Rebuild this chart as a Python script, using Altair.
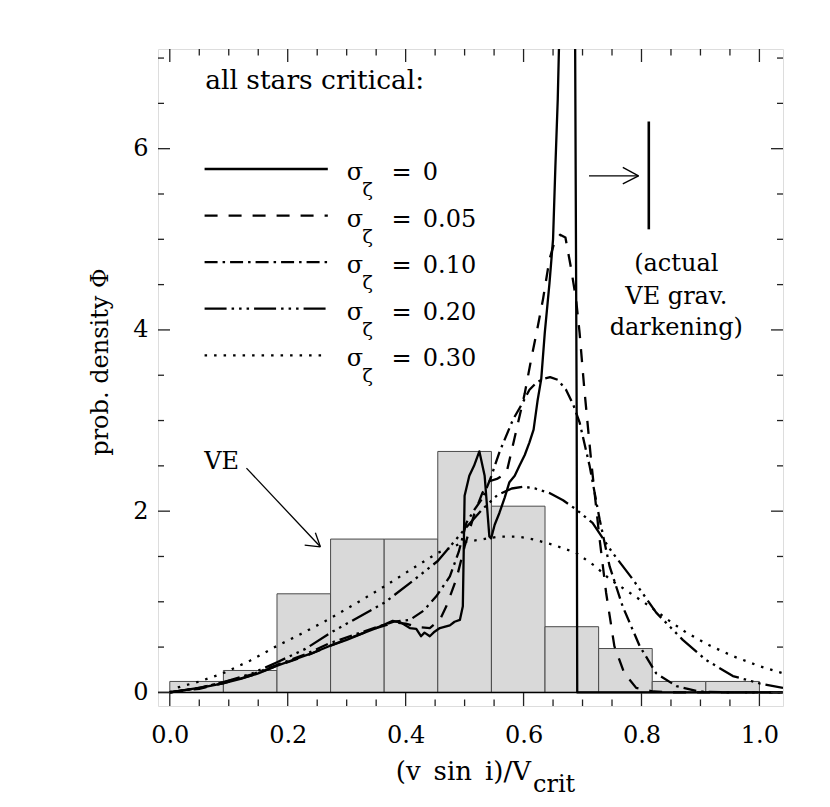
import altair as alt
import pandas as pd

FONT = "DejaVu Serif"
W, H = 625, 657
X_DOMAIN = [-0.02, 1.04]
Y_DOMAIN = [-0.15, 7.1]

# ---------------- data ----------------
bin_lo = [0.0, 0.0909, 0.1818, 0.2727, 0.3636, 0.4545, 0.5455, 0.6364, 0.7273, 0.8182, 0.9091]
bin_hi = [0.0909, 0.1818, 0.2727, 0.3636, 0.4545, 0.5455, 0.6364, 0.7273, 0.8182, 0.9091, 1.0]
bin_density = [0.121, 0.242, 1.088, 1.692, 1.692, 2.659, 2.055, 0.725, 0.484, 0.121, 0.121]

s0_x = [0.0, 0.03, 0.06, 0.09, 0.12, 0.15, 0.18, 0.21, 0.24, 0.27, 0.30, 0.33, 0.35, 0.364, 0.378,
        0.392, 0.407, 0.418, 0.426, 0.432, 0.441, 0.449, 0.458, 0.475, 0.483, 0.492, 0.497, 0.500,
        0.508, 0.516, 0.525, 0.534, 0.542, 0.545, 0.551, 0.559, 0.568, 0.576, 0.585, 0.593, 0.602,
        0.610, 0.617, 0.624, 0.630, 0.636, 0.644, 0.650, 0.654, 0.658, 0.660, 0.662, 0.686, 0.6875,
        0.690, 0.691, 0.75, 1.04]
s0_y = [0.0, 0.03, 0.06, 0.10, 0.15, 0.21, 0.29, 0.36, 0.43, 0.51, 0.58, 0.66, 0.71, 0.75, 0.79,
        0.77, 0.71, 0.70, 0.62, 0.66, 0.62, 0.67, 0.71, 0.74, 0.78, 0.80, 0.95, 2.17,
        2.39, 2.50, 2.66, 2.39, 1.72, 1.70, 1.85, 1.98, 2.15, 2.32, 2.39, 2.50, 2.62,
        2.76, 2.90, 3.23, 3.46, 3.97, 4.52, 5.00, 5.81, 6.55, 7.10, 8.5, 8.5, 7.10,
        3.2, 0.0, 0.0, 0.0]

s05_x = [0.0, 0.05, 0.09, 0.14, 0.18, 0.23, 0.27, 0.31, 0.35, 0.38, 0.40, 0.42, 0.441, 0.458, 0.469,
         0.486, 0.50, 0.517, 0.530, 0.542, 0.556, 0.571, 0.588, 0.602, 0.613, 0.623, 0.633, 0.644,
         0.653, 0.662, 0.671, 0.680, 0.689, 0.695, 0.703, 0.715, 0.729, 0.740, 0.754, 0.771, 0.791,
         0.82, 0.86, 1.04]
s05_y = [0.0, 0.04, 0.10, 0.19, 0.29, 0.40, 0.51, 0.61, 0.71, 0.77, 0.76, 0.72, 0.71, 0.80, 0.95,
         1.25, 1.61, 1.98, 2.20, 2.33, 2.36, 2.42, 2.90, 3.30, 3.68, 4.00, 4.34, 4.78,
         4.98, 5.05, 5.02, 4.70, 4.34, 3.97, 3.35, 2.53, 1.69, 1.10, 0.51, 0.21, 0.05,
         0.01, 0.0, 0.0]

s10_x = [0.0, 0.05, 0.09, 0.14, 0.18, 0.23, 0.27, 0.31, 0.35, 0.38, 0.407, 0.43, 0.452, 0.475, 0.49,
         0.503, 0.517, 0.531, 0.545, 0.559, 0.582, 0.597, 0.610, 0.622, 0.633, 0.645, 0.658, 0.672,
         0.684, 0.695, 0.712, 0.729, 0.746, 0.768, 0.797, 0.825, 0.859, 0.898, 0.95, 1.04]
s10_y = [0.0, 0.05, 0.11, 0.20, 0.30, 0.42, 0.54, 0.63, 0.72, 0.78, 0.80, 0.90, 1.06, 1.28, 1.55,
         1.87, 2.02, 2.15, 2.38, 2.65, 3.01, 3.18, 3.34, 3.42, 3.46, 3.48, 3.45, 3.34,
         3.18, 2.98, 2.50, 1.91, 1.39, 0.95, 0.51, 0.21, 0.07, 0.01, 0.0, 0.0]

s20_x = [0.0, 0.05, 0.09, 0.14, 0.181, 0.23, 0.273, 0.32, 0.364, 0.41, 0.4545, 0.50, 0.53, 0.556,
         0.58, 0.60, 0.62, 0.644, 0.667, 0.689, 0.717, 0.751, 0.785, 0.825, 0.870, 0.909, 0.955,
         1.0, 1.04]
s20_y = [0.0, 0.05, 0.11, 0.21, 0.33, 0.48, 0.66, 0.83, 0.99, 1.22, 1.45, 1.80, 2.02, 2.18,
         2.25, 2.27, 2.25, 2.20, 2.12, 2.02, 1.87, 1.54, 1.25, 0.88, 0.58, 0.36, 0.18,
         0.10, 0.05]

s30_x = [0.0, 0.011, 0.05, 0.09, 0.136, 0.181, 0.227, 0.273, 0.318, 0.364, 0.41, 0.4545, 0.50,
         0.531, 0.559, 0.59, 0.616, 0.65, 0.689, 0.72, 0.746, 0.78, 0.814, 0.845, 0.876, 0.915,
         0.955, 1.0, 1.04]
s30_y = [0.0, 0.05, 0.12, 0.21, 0.35, 0.51, 0.66, 0.82, 0.99, 1.17, 1.36, 1.54, 1.66,
         1.69, 1.72, 1.72, 1.69, 1.63, 1.54, 1.40, 1.25, 1.10, 0.95, 0.80, 0.66, 0.52,
         0.40, 0.29, 0.21]

sigma_labels = ["0", "0.05", "0.10", "0.20", "0.30"]
legend_rows_y = [5.776, 5.262, 4.748, 4.234, 3.720]
legend_x0, legend_x1 = 0.059, 0.268

x_major = [0.0, 0.2, 0.4, 0.6, 0.8, 1.0]
x_minor = [0.05, 0.1, 0.15, 0.25, 0.3, 0.35, 0.45, 0.5, 0.55, 0.65, 0.7, 0.75, 0.85, 0.9, 0.95]
y_major = [0, 2, 4, 6]
y_minor = [0.5, 1, 1.5, 2.5, 3, 3.5, 4.5, 5, 5.5, 6.5, 7]

# ---------------- chart ----------------
xs = alt.Scale(domain=X_DOMAIN, nice=False, zero=False)
ys = alt.Scale(domain=Y_DOMAIN, nice=False, zero=False)
AX = alt.Axis(values=x_major, format=".1f", ticks=False, domain=False, grid=False, labelFont=FONT,
              labelFontSize=24, labelColor="black", labelPadding=17, title=None, labelFlush=False)
AY = alt.Axis(values=y_major, format="d", ticks=False, domain=False, grid=False, labelFont=FONT,
              labelFontSize=24, labelColor="black", labelPadding=10, title=None, labelFlush=False)

def X(field):
    return alt.X(field, scale=xs, axis=AX)
def Y(field):
    return alt.Y(field, scale=ys, axis=AY)

hist_df = pd.DataFrame({"x0": bin_lo, "x1": bin_hi, "d": bin_density, "z": [0.0] * len(bin_lo)})
hist = alt.Chart(hist_df).mark_rect(fill="#d9d9d9", stroke="#4a4a4a", strokeWidth=1).encode(
    x=X("x0:Q"), x2="x1:Q", y=Y("d:Q"), y2="z:Q")

zero_df = pd.DataFrame({"y": [0.0]})
zero_line = alt.Chart(zero_df).mark_rule(color="black", strokeWidth=1.5).encode(
    y=Y("y:Q"), x=alt.value(0), x2=alt.value(W))

styles = [
    (s0_x, s0_y, None),
    (s05_x, s05_y, [13, 11]),
    (s10_x, s10_y, [13, 5, 2.5, 5]),
    (s20_x, s20_y, [22, 5, 2.5, 5, 2.5, 5, 2.5, 5]),
    (s30_x, s30_y, [2.5, 7]),
]

layers = [hist, zero_line]
for (cx, cy, dash), row_y in zip(styles, legend_rows_y):
    df = pd.DataFrame({"x": cx, "y": cy, "o": list(range(len(cx)))})
    kw = dict(clip=True, color="black", strokeWidth=2.3, strokeCap="butt", strokeJoin="round")
    if dash is not None:
        kw["strokeDash"] = dash
    layers.append(alt.Chart(df).mark_line(**kw).encode(x=X("x:Q"), y=Y("y:Q"), order="o:Q"))
    ldf = pd.DataFrame({"x": [legend_x0], "x2": [legend_x1], "y": [row_y]})
    kw2 = dict(color="black", strokeWidth=2.3, strokeCap="butt")
    if dash is not None:
        kw2["strokeDash"] = dash
    layers.append(alt.Chart(ldf).mark_rule(**kw2).encode(x=X("x:Q"), x2="x2:Q", y=Y("y:Q")))

leg_df = pd.DataFrame({"y": legend_rows_y, "val": sigma_labels,
                       "sig": ["σ"] * 5, "zeta": ["ζ"] * 5, "eq": ["="] * 5})
def legend_text(field, xpos, size, dy):
    return alt.Chart(leg_df).mark_text(font=FONT, fontSize=size, align="left", baseline="alphabetic",
                                       dy=dy, color="black").encode(
        x=X("xx:Q"), y=Y("y:Q"), text=f"{field}:N").transform_calculate(xx=str(xpos))
layers += [legend_text("sig", 0.300, 24, 11), legend_text("zeta", 0.327, 19, 27),
           legend_text("eq", 0.376, 24, 11), legend_text("val", 0.429, 24, 11)]

# free annotations (data coordinates)
ann_df = pd.DataFrame({
    "x": [0.06, 0.088, 0.859, 0.859, 0.859],
    "y": [6.66, 2.46, 4.65, 4.29, 3.94],
    "t": ["all stars critical:", "VE", "(actual", "VE grav.", "darkening)"],
    "a": ["left", "center", "center", "center", "center"],
})
for al, size in [("left", 26.5), ("center", 24)]:
    layers.append(alt.Chart(ann_df[ann_df.a == al]).mark_text(
        font=FONT, fontSize=size, align=al, baseline="alphabetic", color="black").encode(
        x=X("x:Q"), y=Y("y:Q"), text="t:N"))

seg_df = pd.DataFrame({
    "x": [0.130, 0.2554, 0.2554, 0.711, 0.795, 0.795],
    "y": [2.475, 1.607, 1.607, 5.70, 5.70, 5.70],
    "x2": [0.2554, 0.2288, 0.2469, 0.795, 0.7683, 0.7683],
    "y2": [1.607, 1.625, 1.762, 5.70, 5.794, 5.611],
})
layers.append(alt.Chart(seg_df).mark_rule(color="black", strokeWidth=1.3).encode(
    x=X("x:Q"), x2="x2:Q", y=Y("y:Q"), y2="y2:Q"))
mark_df = pd.DataFrame({"x": [0.8124], "y": [6.30], "y2": [5.11]})
layers.append(alt.Chart(mark_df).mark_rule(color="black", strokeWidth=2.6).encode(
    x=X("x:Q"), y=Y("y:Q"), y2="y2:Q"))

# tick marks on all four sides (inward)
def xticks(vals, length):
    df = pd.DataFrame({"v": vals})
    base = alt.Chart(df).mark_rule(color="#222", strokeWidth=1.3)
    return [base.encode(x=X("v:Q"), y=alt.value(H), y2=alt.value(H - length)),
            base.encode(x=X("v:Q"), y=alt.value(0), y2=alt.value(length))]
def yticks(vals, length):
    df = pd.DataFrame({"v": vals})
    base = alt.Chart(df).mark_rule(color="#222", strokeWidth=1.3)
    return [base.encode(y=Y("v:Q"), x=alt.value(0), x2=alt.value(length)),
            base.encode(y=Y("v:Q"), x=alt.value(W), x2=alt.value(W - length))]
layers += xticks(x_major, 13) + xticks(x_minor, 6.5) + yticks(y_major, 12) + yticks(y_minor, 6)

# axis titles
title_df = pd.DataFrame({"t": ["(v\u2002sin\u2002i)/V"], "c": ["crit"], "p": ["prob. density Φ"]})
layers.append(alt.Chart(title_df).mark_text(font=FONT, fontSize=26, align="right", baseline="alphabetic",
                                            color="black").encode(
    x=alt.value(373), y=alt.value(731), text="t:N"))
layers.append(alt.Chart(title_df).mark_text(font=FONT, fontSize=24, align="left", baseline="alphabetic",
                                            color="black").encode(
    x=alt.value(375), y=alt.value(743), text="c:N"))
layers.append(alt.Chart(title_df).mark_text(font=FONT, fontSize=24, align="center", baseline="middle",
                                            angle=270, color="black").encode(
    x=alt.value(-57), y=alt.value(313), text="p:N"))

chart = alt.layer(*layers).properties(
    width=W, height=H,
    autosize=alt.AutoSizeParams(type="none"),
    padding={"left": 150, "top": 41, "right": 30, "bottom": 94},
).configure_view(stroke="black", strokeWidth=1.5).configure(background="white")

chart.save("out.html", embed_options={"renderer": "svg", "actions": False})
